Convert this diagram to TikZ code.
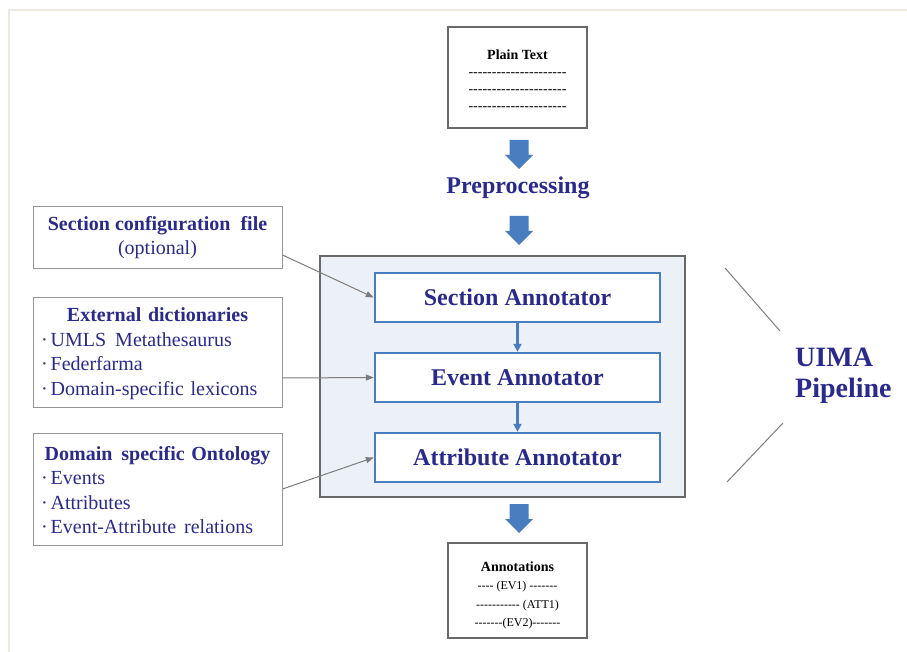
\documentclass[tikz,border=0pt]{standalone}
\usepackage{fontspec}
\setmainfont{Liberation Serif}[Ligatures=TeXOff]
\usetikzlibrary{arrows.meta,calc}

\definecolor{navy}{RGB}{42,42,140}
\definecolor{blockblue}{RGB}{72,125,192}
\definecolor{framegray}{RGB}{105,105,105}
\definecolor{sidegray}{RGB}{150,150,150}
\definecolor{linkgray}{RGB}{125,125,125}
\definecolor{pipefill}{RGB}{236,241,248}
\definecolor{pagetint}{RGB}{236,234,222}

\newcommand\fsz[2]{\fontsize{#1}{#2}\selectfont}
\newcommand\dashrow{---------------------}
\newcommand\itm{·\hspace{3pt}}

% filled downward block arrow: centre x, top y, length
\newcommand\downblock[3]{%
  \fill[blockblue] (#1-9.5,#2) -- (#1+9.5,#2) -- (#1+9.5,#2+#3-14)
    -- (#1+14,#2+#3-14) -- (#1,#2+#3) -- (#1-14,#2+#3-14)
    -- (#1-9.5,#2+#3-14) -- cycle;}

\tikzset{
  docbox/.style={draw=framegray, line width=1.3pt, fill=white, inner sep=0pt},
  doctext/.style={align=center, text=black, inner sep=0pt},
  sidebox/.style={draw=sidegray, line width=1pt, fill=white, inner sep=0pt,
    text=navy, minimum width=249},
  annot/.style={draw=blockblue, line width=2.4pt, fill=white, minimum width=285,
    minimum height=49, inner sep=0pt, text=navy, font=\bfseries\fsz{24}{24}},
  flow/.style={blockblue, line width=2.2pt, -{Triangle[length=8,width=8]}},
  feed/.style={linkgray, line width=1pt, -{Triangle[length=8,width=6]}},
  brace/.style={linkgray, line width=1pt},
  bullets/.style={text width=233, align=left, font=\fsz{20}{24.6}, text=navy, inner sep=0pt}
}

\begin{document}
\begin{tikzpicture}[x=1pt,y=-1pt]
\useasboundingbox (0,0) rectangle (907,652);
\fill[white] (0,0) rectangle (907,652);
\draw[pagetint, line width=1.3pt] (9,652) -- (9,10) -- (907,10);

% input document
\node[docbox, minimum width=139, minimum height=101] (plain) at (517.5,77.5) {};
\node[doctext, font=\fsz{14}{17}] (plaint) at ($(plain.center)+(0,2.5)$)
  {\textbf{Plain Text}\\\dashrow\\\dashrow\\\dashrow};

\downblock{519}{140}{29}
\node[text=navy, font=\bfseries\fsz{24}{24}] (pre) at (518,188) {Preprocessing};
\downblock{519}{216}{29}

% pipeline container and annotators
\node[draw=framegray, line width=1.2pt, fill=pipefill, minimum width=365,
  minimum height=241, inner sep=0pt] (pipe) at (502.5,376.5) {};
\node[annot] (sec) at (517.5,297.5) {Section Annotator};
\node[annot] (evt) at (517.5,377.5) {Event Annotator};
\node[annot] (att) at (517.5,457.5) {Attribute Annotator};
\draw[flow] (sec) -- (evt);
\draw[flow] (evt) -- (att);

\downblock{519}{504}{29}

% output document
\node[docbox, minimum width=139, minimum height=95] (out) at (517.5,590.5) {};
\node[doctext, font=\fsz{12}{18.4}] (outt) at ($(out.center)+(0,5)$)
  {{\bfseries\fsz{14}{18.4}Annotations}\\---- (EV1) -------\\----------- (ATT1)\\-------(EV2)-------};

% resources on the left
\node[sidebox, minimum height=62, align=center, font=\fsz{20}{24}] (cfg) at (157.5,238)
  {\textbf{Section configuration\ \ file}\\(optional)};
\node[sidebox, minimum height=110] (ext) at (157.5,352) {};
\node[bullets] (extt) at ($(ext.center)+(0,1.5)$)
  {\makebox[\linewidth][c]{\textbf{External dictionaries}}\\
   \itm UMLS\hspace{9pt}Metathesaurus\\
   \itm Federfarma\\
   \itm Domain-specific lexicons};
\node[sidebox, minimum height=112] (onto) at (157.5,489) {};
\node[bullets] (ontot) at ($(onto.center)+(0,1)$)
  {\makebox[\linewidth][c]{\textbf{Domain\hspace{9pt}specific Ontology}}\\
   \itm Events\\
   \itm Attributes\\
   \itm Event-Attribute\hspace{8pt}relations};

\draw[feed] ($(cfg.east)+(0,17)$) -- (sec.west);
\draw[feed] ($(ext.east)+(0,26)$) -- (evt.west);
\draw[feed] (onto.east) -- (att.west);

% pipeline label
\node[anchor=west, align=left, text=navy, font=\bfseries\fsz{28}{31}, inner sep=0pt] (uima)
  at (795,376) {UIMA\\Pipeline};
\coordinate (b1) at (725,268);
\coordinate (b2) at (780,331);
\coordinate (b3) at (783,423);
\coordinate (b4) at (727,482);
\draw[brace] (b1) -- (b2);
\draw[brace] (b3) -- (b4);
\end{tikzpicture}
\end{document}
